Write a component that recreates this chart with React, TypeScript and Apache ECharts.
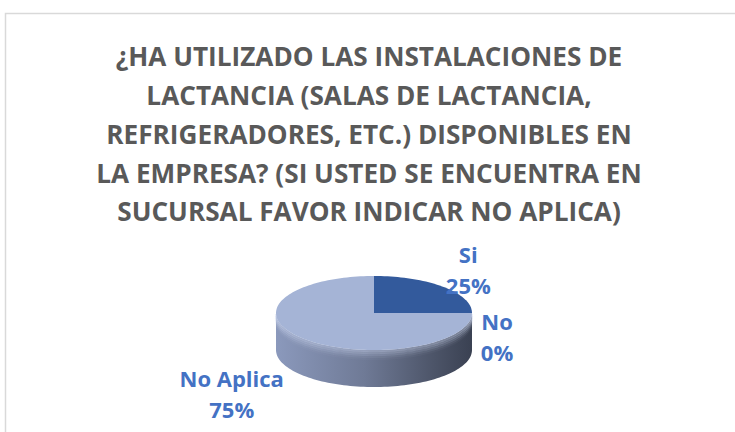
import { useEffect, useRef } from 'react';
import * as echarts from 'echarts';

const categories = ['Si', 'No', 'No Aplica'];
const values = [25, 0, 75];
const titleLines = [
  '¿HA UTILIZADO LAS INSTALACIONES DE',
  'LACTANCIA (SALAS DE LACTANCIA,',
  'REFRIGERADORES, ETC.) DISPONIBLES EN',
  'LA EMPRESA? (SI USTED SE ENCUENTRA EN',
  'SUCURSAL FAVOR INDICAR NO APLICA)',
];

// layout / style
const sliceColors = ['#335a9c', '#7f8db0', '#a5b4d6'];
const CX = 374, CY = 313, RX = 98, RY = 37, DEPTH = 37;
const START = 90;
const labelOffsets = [[25, -17], [25, 23], [-73, 54]];
const LABEL_COLOR = '#4472c4';
const TITLE_COLOR = '#595959';
const FONT = '"Open Sans", "Noto Sans", sans-serif';
const bevel = [[1, 0.4], [3, 0.3], [5, 0.2], [7, 0.1], [9, 0.04]];

const pt = (deg: number, dy = 0) => {
  const r = (deg * Math.PI) / 180;
  return [CX + RX * Math.cos(r), CY - RY * Math.sin(r) + dy];
};

const arcPoints = (a1: number, a2: number, dy = 0) => {
  const pts: number[][] = [];
  const n = Math.max(2, Math.ceil(Math.abs(a1 - a2) / 2));
  for (let k = 0; k <= n; k++) pts.push(pt(a1 + ((a2 - a1) * k) / n, dy));
  return pts;
};

export default function App() {
  const ref = useRef<HTMLDivElement>(null);
  useEffect(() => {
    document.body.style.margin = '0';
    const chart = echarts.init(ref.current!, null, { renderer: 'svg' });
    const total = values.reduce((s, v) => s + v, 0);
    const cum: number[] = [];
    values.reduce((s, v, i) => { cum[i] = s; return s + v; }, 0);

    const renderItem = (params: any, api: any) => {
      const i = params.dataIndex;
      const v = api.value(0);
      const a1 = START - (360 * cum[i]) / total;
      const a2 = a1 - (360 * v) / total;
      const children: any[] = [];
      if (v > 0) {
        for (let k = -1; k <= 1; k++) {
          const lo = Math.max(a2, -180 + 360 * k);
          const hi = Math.min(a1, 360 * k);
          if (hi - lo > 0.01) {
            const top = arcPoints(hi, lo);
            const bottom = arcPoints(lo, hi, DEPTH);
            children.push({
              type: 'polygon',
              z2: 1,
              shape: { points: top.concat(bottom) },
              style: {
                fill: new echarts.graphic.LinearGradient(0, 0, 1, 0, [
                  { offset: 0, color: '#8b99bc' },
                  { offset: 0.45, color: '#6f7a96' },
                  { offset: 0.8, color: '#4d5569' },
                  { offset: 1, color: '#3a4152' },
                ]),
              },
            });
            bevel.forEach(([dy, a]) => {
              children.push({
                type: 'polyline',
                z2: 2,
                shape: { points: arcPoints(hi, lo, dy) },
                style: { stroke: `rgba(205,215,240,${a})`, lineWidth: 2.2, fill: 'none' },
              });
            });
          }
        }
        children.push({
          type: 'polygon',
          z2: 5,
          shape: { points: [[CX, CY]].concat(arcPoints(a1, a2)) },
          style: { fill: sliceColors[i] },
        });
      }
      const mid = (a1 + a2) / 2;
      const p = pt(mid);
      const pct = Math.round((100 * v) / total);
      children.push({
        type: 'text',
        z2: 10,
        x: p[0] + labelOffsets[i][0],
        y: p[1] + labelOffsets[i][1],
        style: {
          text: `${categories[i]}\n${pct}%`,
          fill: LABEL_COLOR,
          font: `bold 22px ${FONT}`,
          align: 'center',
          verticalAlign: 'middle',
          lineHeight: 31,
        },
      });
      return { type: 'group', children };
    };

    chart.setOption({
      animation: false,
      graphic: [
        {
          type: 'rect',
          shape: { x: 5.5, y: 13.5, width: 760, height: 440 },
          style: { fill: 'none', stroke: '#d9d9d9', lineWidth: 1.5 },
        },
        ...titleLines.map((t, i) => ({
          type: 'text',
          x: 369,
          y: 56 + i * 38.8,
          scaleX: 0.97,
          style: {
            text: t,
            fill: TITLE_COLOR,
            font: `bold 27px ${FONT}`,
            align: 'center',
            verticalAlign: 'middle',
          },
        })),
      ],
      series: [
        {
          type: 'custom',
          coordinateSystem: 'none',
          renderItem,
          data: values.map((v, i) => ({ name: categories[i], value: [v, i] })),
        },
      ],
    });
    return () => chart.dispose();
  }, []);
  return <div ref={ref} style={{ width: 735, height: 432 }} />;
}
